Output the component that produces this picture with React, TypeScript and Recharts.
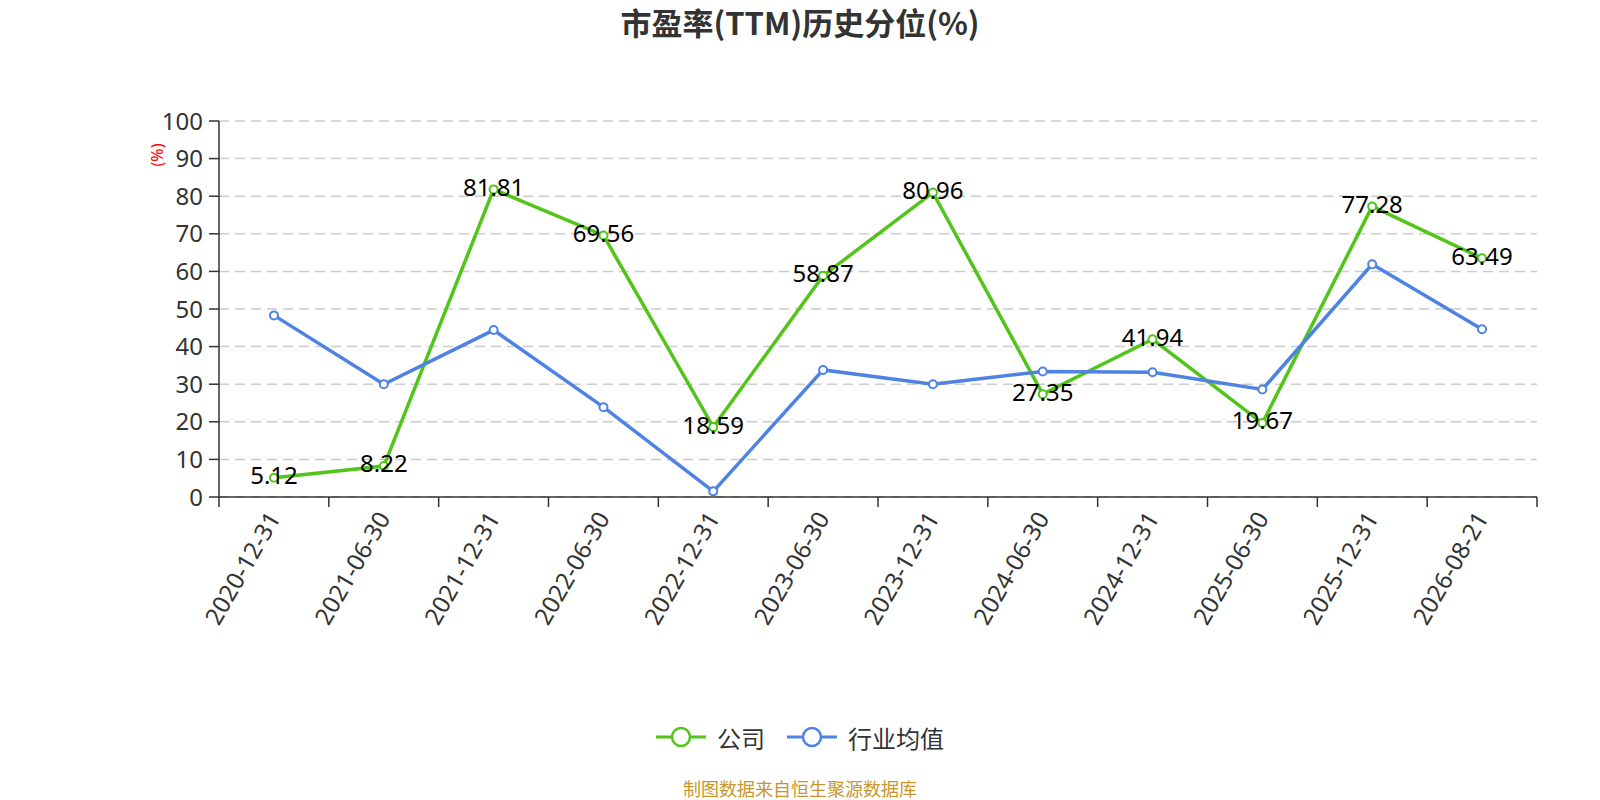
import React from 'react';
import { LineChart, Line, XAxis, YAxis, CartesianGrid, Legend, LabelList } from 'recharts';

const dates = ['2020-12-31', '2021-06-30', '2021-12-31', '2022-06-30', '2022-12-31', '2023-06-30', '2023-12-31', '2024-06-30', '2024-12-31', '2025-06-30', '2025-12-31', '2026-08-21'];
const company = [5.12, 8.22, 81.81, 69.56, 18.59, 58.87, 80.96, 27.35, 41.94, 19.67, 77.28, 63.49];
const industry = [48.3, 30.0, 44.4, 23.9, 1.5, 33.8, 30.0, 33.4, 33.2, 28.6, 61.9, 44.6];
const yTicks = [0, 10, 20, 30, 40, 50, 60, 70, 80, 90, 100];
const boundaryTicks = [0, 1, 2, 3, 4, 5, 6, 7, 8, 9, 10, 11, 12];

const seriesNames = { company: '公司', industry: '行业均值' };
const GREEN = '#52c41a';
const BLUE = '#4e82e3';
const FONT = '"Noto Sans", "Noto Sans CJK SC", sans-serif';
const CJK = '"Noto Sans CJK SC", "Noto Sans", sans-serif';

const data = dates.map((d, i) => ({ date: d, slot: i + 0.5, company: company[i], industry: industry[i] }));

const EmptyTick = () => <g />;

const XTick = (props: any) => {
  const { x, y, payload } = props;
  return (
    <g transform={`translate(${x},${y})`}>
      <text textAnchor="end" dy="0.35em" transform="rotate(-60)" fontSize={24} fill="#333" fontFamily={FONT}>
        {payload.value}
      </text>
    </g>
  );
};

const PointLabel = (props: any) => {
  const { x, y, value } = props;
  return (
    <text x={x} y={y - 2} textAnchor="middle" dy="0.35em" fontSize={24} fill="#000" fontFamily={FONT}>
      {value}
    </text>
  );
};

const YLabel = (props: any) => {
  const { viewBox } = props;
  const cx = viewBox.x + 18;
  const cy = viewBox.y + 34;
  return (
    <text x={cx} y={cy} transform={`rotate(-90, ${cx}, ${cy})`} textAnchor="middle" dominantBaseline="central" fontSize={16} fill="#ff0000" fontFamily={FONT}>
      (%)
    </text>
  );
};

const LegendContent = () => {
  const items = [
    { name: seriesNames.company, color: GREEN },
    { name: seriesNames.industry, color: BLUE },
  ];
  return (
    <div style={{ display: 'flex', justifyContent: 'center', alignItems: 'center', height: 40, gap: 22 }}>
      {items.map((it) => (
        <div key={it.name} style={{ display: 'flex', alignItems: 'center' }}>
          <svg width={50} height={22} style={{ marginRight: 11 }}>
            <line x1={0} y1={11} x2={50} y2={11} stroke={it.color} strokeWidth={3} />
            <circle cx={25} cy={11} r={9} fill="#fff" stroke={it.color} strokeWidth={2.5} />
          </svg>
          <span style={{ fontSize: 24, color: '#333', fontFamily: CJK }}>{it.name}</span>
        </div>
      ))}
    </div>
  );
};

export default function App() {
  return (
    <div style={{ position: 'absolute', left: 0, top: 0, width: 1600, height: 800, background: '#fff' }}>
      <div style={{ position: 'absolute', left: 0, width: 1600, top: 2, textAlign: 'center', fontSize: 31, fontWeight: 'bold', color: '#333', fontFamily: CJK, lineHeight: '40px' }}>
        市盈率(TTM)历史分位(%)
      </div>
      <LineChart width={1600} height={800} data={data} margin={{ top: 121, right: 63, bottom: 43, left: 139 }}>
        <CartesianGrid horizontal vertical={false} stroke="#cccccc" strokeDasharray="10 6" strokeWidth={1.5} />
        <XAxis
          xAxisId="bound"
          dataKey="slot"
          type="number"
          domain={[0, 12]}
          ticks={boundaryTicks}
          interval={0}
          allowDataOverflow
          tick={<EmptyTick />}
          tickLine={{ stroke: '#333', strokeWidth: 1.5 }}
          height={1}
          tickSize={10}
          stroke="#333"
          strokeWidth={1.5}
        />
        <XAxis
          xAxisId="cat"
          dataKey="date"
          type="category"
          interval={0}
          axisLine={false}
          tickLine={false}
          padding={{ left: 55, right: 55 }}
          height={219}
          tickSize={10}
          tickMargin={6}
          tick={<XTick />}
        />
        <YAxis
          domain={[0, 100]}
          ticks={yTicks}
          interval={0}
          width={80}
          tickSize={10}
          tickMargin={6}
          stroke="#333"
          strokeWidth={1.5}
          tick={{ fontSize: 24, fill: '#333', fontFamily: FONT }}
          label={<YLabel />}
        />
        <Legend verticalAlign="bottom" height={40} width={1600} wrapperStyle={{ left: 0 }} content={<LegendContent />} />
        <Line
          xAxisId="cat"
          dataKey="company"
          name={seriesNames.company}
          stroke={GREEN}
          strokeWidth={3.5}
          dot={{ r: 4, fill: '#fff', stroke: GREEN, strokeWidth: 2 }}
          activeDot={false}
          isAnimationActive={false}
        >
          <LabelList dataKey="company" content={<PointLabel />} />
        </Line>
        <Line
          xAxisId="cat"
          dataKey="industry"
          name={seriesNames.industry}
          stroke={BLUE}
          strokeWidth={3.5}
          dot={{ r: 4, fill: '#fff', stroke: BLUE, strokeWidth: 2 }}
          activeDot={false}
          isAnimationActive={false}
        />
      </LineChart>
      <div style={{ position: 'absolute', left: 0, width: 1600, top: 776, textAlign: 'center', fontSize: 18, color: '#c9962d', fontFamily: CJK, lineHeight: '24px' }}>
        制图数据来自恒生聚源数据库
      </div>
    </div>
  );
}
